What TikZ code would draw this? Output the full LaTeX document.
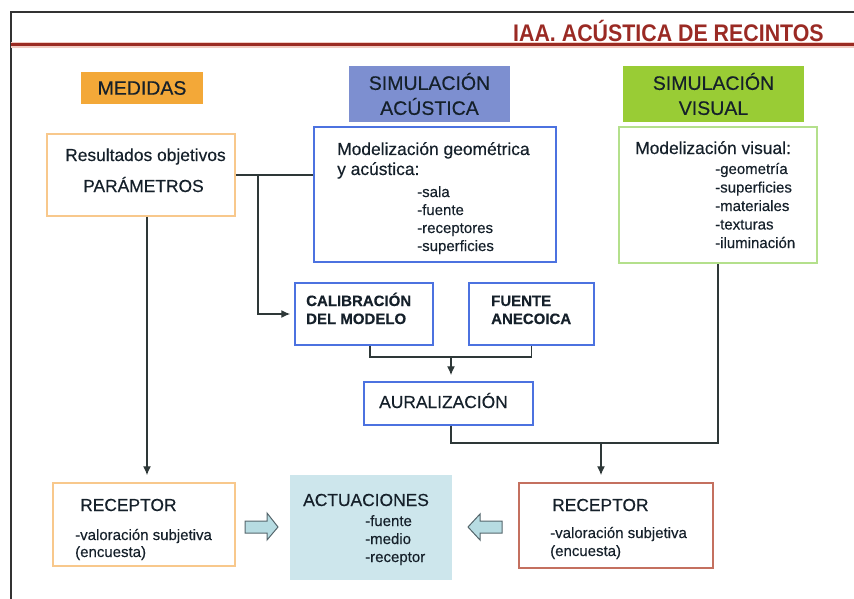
\documentclass[tikz,border=0pt]{standalone}
\usepackage{fontspec}
\setmainfont[FakeBold=0.35]{Liberation Sans}
\newfontfamily\titlefont[FakeStretch=0.89]{Liberation Sans}
\usetikzlibrary{arrows.meta,calc}
\definecolor{titlered}{HTML}{9A2A24}
\definecolor{redline}{HTML}{9B2B22}
\definecolor{redhalo}{HTML}{F2CCC4}
\definecolor{orfill}{HTML}{F3A838}
\definecolor{bluefill}{HTML}{7D8FD0}
\definecolor{greenfill}{HTML}{99CC35}
\definecolor{orborder}{HTML}{F8C88C}
\definecolor{blueborder}{HTML}{4C72E0}
\definecolor{greenborder}{HTML}{B4E08C}
\definecolor{salmonborder}{HTML}{C4705F}
\definecolor{actfill}{HTML}{CDE6EC}
\definecolor{barrowfill}{HTML}{B7DCE2}
\definecolor{barrowdraw}{HTML}{55666C}
\definecolor{conncol}{HTML}{2E3838}
\definecolor{txt}{HTML}{15202A}
\newcommand{\fmain}{\fontsize{17.4}{20}\selectfont}
\newcommand{\flist}{\fontsize{15}{18}\selectfont}
\newcommand{\fhead}{\fontsize{19.5}{25}\selectfont}
\begin{document}
\begin{tikzpicture}[x=1pt,y=-1pt,
  box/.style={rectangle,inner sep=0pt,line width=1.5pt},
  lbl/.style={anchor=base west,inner sep=0pt,text=txt},
  conn/.style={draw=conncol,line width=1.4pt},
  arr/.style={conn,-{Latex[length=9pt,width=8pt]}},
  barrow/.style={fill=barrowfill,draw=barrowdraw,line width=1pt}]
\useasboundingbox (0,0) rectangle (854,599);
% frame
\draw[line width=1.5pt,black!80] (854,12) -- (11,12) -- (11,599);
\draw[line width=6pt,redhalo] (11,45.5) -- (854,45.5);
\draw[line width=3pt,redline] (11,45) -- (854,45);
\node[anchor=base west,inner sep=0pt,text=titlered,font=\titlefont\bfseries\fontsize{24}{28}\selectfont] (title) at (513,42) {IAA. ACÚSTICA DE RECINTOS};
% header boxes
\node[box,fill=orfill,minimum width=122pt,minimum height=32pt,text=txt,font=\fhead] (med) at (142,88) {MEDIDAS};
\node[box,fill=bluefill,minimum width=161pt,minimum height=56pt,text=txt,font=\fhead,align=center] (simacu) at (429.5,94) {SIMULACIÓN\\ACÚSTICA};
\node[box,fill=greenfill,minimum width=181pt,minimum height=56pt,text=txt,font=\fhead,align=center] (simvis) at (713.5,94) {SIMULACIÓN\\VISUAL};
% content boxes
\node[box,draw=orborder,minimum width=188pt,minimum height=82pt] (res) at (141,175) {};
\node[box,draw=blueborder,minimum width=242pt,minimum height=135pt] (mod) at (435,194.5) {};
\node[box,draw=greenborder,minimum width=198pt,minimum height=136pt] (vis) at (718,195) {};
\node[box,draw=blueborder,minimum width=138pt,minimum height=62pt] (cal) at (364,314) {};
\node[box,draw=blueborder,minimum width=125pt,minimum height=62pt] (fue) at (531.5,314) {};
\node[box,draw=blueborder,minimum width=169pt,minimum height=43pt] (aur) at (448.5,403.5) {};
\node[box,draw=orborder,minimum width=182pt,minimum height=83pt] (recL) at (144,524.5) {};
\node[box,fill=actfill,minimum width=162pt,minimum height=105pt] (act) at (371,527.5) {};
\node[box,draw=salmonborder,minimum width=194pt,minimum height=85pt] (recR) at (616,525.5) {};
% texts
\node[lbl,font=\fmain] (t1) at (65,161) {Resultados objetivos};
\node[lbl,font=\fmain] (t2) at (83,192) {PARÁMETROS};
\node[lbl,font=\fmain] (t3) at (337,155) {Modelización geométrica};
\node[lbl,font=\fmain] (t4) at (337,175) {y acústica:};
\node[lbl,font=\flist] (t5) at (417,197) {-sala};
\node[lbl,font=\flist] (t6) at (417,215) {-fuente};
\node[lbl,font=\flist] (t7) at (417,233) {-receptores};
\node[lbl,font=\flist] (t8) at (417,251) {-superficies};
\node[lbl,font=\fmain] (t9) at (635,154) {Modelización visual:};
\node[lbl,font=\flist] (t10) at (715,174) {-geometría};
\node[lbl,font=\flist] (t11) at (715,192.5) {-superficies};
\node[lbl,font=\flist] (t12) at (715,211) {-materiales};
\node[lbl,font=\flist] (t13) at (715,229.5) {-texturas};
\node[lbl,font=\flist] (t14) at (715,248) {-iluminación};
\node[lbl,font=\flist\bfseries] (t15) at (306,306) {CALIBRACIÓN};
\node[lbl,font=\flist\bfseries] (t16) at (306,324) {DEL MODELO};
\node[lbl,font=\flist\bfseries] (t17) at (491,306) {FUENTE};
\node[lbl,font=\flist\bfseries] (t18) at (491,324) {ANECOICA};
\node[lbl,font=\fmain] (t19) at (379,408) {AURALIZACIÓN};
\node[lbl,font=\fmain] (t20) at (80,511) {RECEPTOR};
\node[lbl,font=\flist] (t21) at (75,540) {-valoración subjetiva};
\node[lbl,font=\flist] (t22) at (75,557) {(encuesta)};
\node[lbl,font=\fmain] (t23) at (303,506) {ACTUACIONES};
\node[lbl,font=\flist] (t24) at (365,526) {-fuente};
\node[lbl,font=\flist] (t25) at (365,544) {-medio};
\node[lbl,font=\flist] (t26) at (365,562) {-receptor};
\node[lbl,font=\fmain] (t27) at (552,511) {RECEPTOR};
\node[lbl,font=\flist] (t28) at (550,538) {-valoración subjetiva};
\node[lbl,font=\flist] (t29) at (550,556) {(encuesta)};
% connectors
\coordinate (j1) at (258,175);
\coordinate (m1) at (451,357);
\coordinate (m2) at (451,443);
\coordinate (m3) at (601,443);
\draw[conn] (res.east) -- (res.east -| mod.west);
\draw[arr,shorten >=4pt] (j1) |- (cal.west);
\draw[arr,shorten >=7pt] ([xshift=6pt]res.south) -- ([xshift=6pt]res.south |- recL.north);
\draw[conn] ([xshift=6pt]cal.south) |- (m1) -| (fue.south);
\draw[arr,shorten >=6pt] (m1) -- (m1 |- aur.north);
\draw[conn] (m1 |- aur.south) -- (m2) -| (vis.south);
\draw[arr,shorten >=7pt] (m3) -- (m3 |- recR.north);
% block arrows
\draw[barrow] (245,521) -- (267,521) -- (267,513) -- (278,527) -- (267,540) -- (267,533) -- (245,533) -- cycle;
\draw[barrow] (502,521) -- (480,521) -- (480,514) -- (468,527) -- (480,540) -- (480,533) -- (502,533) -- cycle;
\end{tikzpicture}
\end{document}
